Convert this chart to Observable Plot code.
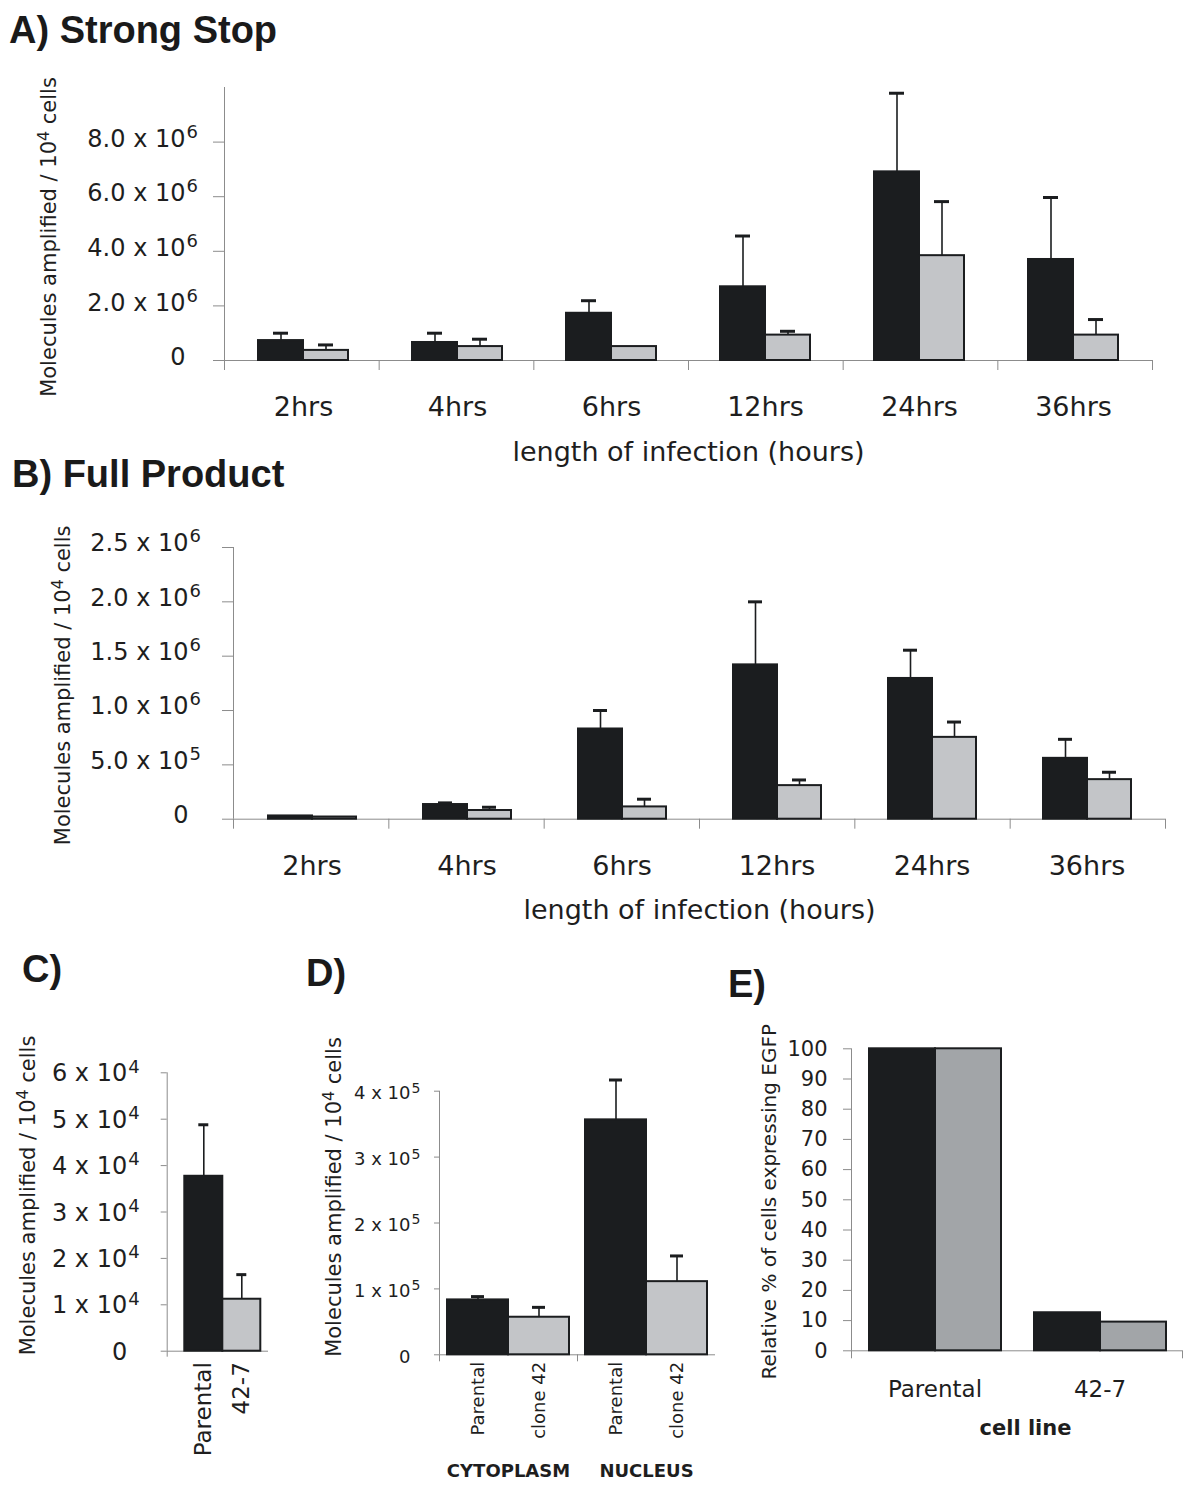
<!DOCTYPE html>
<html>
<head>
<meta charset="utf-8">
<script src="https://cdn.jsdelivr.net/npm/d3@7"></script>
<script src="https://cdn.jsdelivr.net/npm/@observablehq/plot@0.6"></script>
<style>
  body { margin: 0; background: #fff; }
  #page { position: relative; width: 1200px; height: 1494px; overflow: hidden; background: #fff; }
  .ttl { position: absolute; font-family: "Liberation Sans", Arial, sans-serif; font-weight: bold;
         font-size: 38px; line-height: 1; color: #1a1a1a; white-space: nowrap; }
</style>
</head>
<body>
<div id="page"></div>
<script>
// ---------------- DATA ----------------
const hours = ["2hrs", "4hrs", "6hrs", "12hrs", "24hrs", "36hrs"];
const cellLines = ["Parental", "42-7"];

// A) Strong Stop (molecules amplified / 10^4 cells), bar value and SD (error bar length)
const strongStopParental   = [0.73e6, 0.66e6, 1.73e6, 2.70e6, 6.91e6, 3.70e6];
const strongStopParentalSD = [0.27e6, 0.34e6, 0.46e6, 1.86e6, 2.88e6, 2.27e6];
const strongStop427        = [0.37e6, 0.51e6, 0.51e6, 0.93e6, 3.84e6, 0.93e6];
const strongStop427SD      = [0.20e6, 0.27e6, 0, 0.14e6, 1.98e6, 0.57e6];

// B) Full Product
const fullParental   = [0.03e6, 0.135e6, 0.83e6, 1.42e6, 1.295e6, 0.56e6];
const fullParentalSD = [0, 0.015e6, 0.17e6, 0.58e6, 0.26e6, 0.175e6];
const full427        = [0.02e6, 0.08e6, 0.113e6, 0.309e6, 0.753e6, 0.364e6];
const full427SD      = [0, 0.03e6, 0.071e6, 0.052e6, 0.141e6, 0.068e6];

// C) Parental vs 42-7
const cValues = [3.77e4, 1.12e4];
const cSD     = [1.11e4, 0.53e4];

// D) Cytoplasm / Nucleus
const fractions = ["CYTOPLASM", "NUCLEUS"];
const dLines = ["Parental", "clone 42"];
const dParental   = [0.833e5, 3.565e5];
const dParentalSD = [0.05e5, 0.605e5];
const dClone42    = [0.57e5, 1.11e5];
const dClone42SD  = [0.15e5, 0.39e5];

// E) Relative % of cells expressing EGFP
const eSeries = ["Series 1", "Series 2"];
const eSeries1 = [100, 12.6];
const eSeries2 = [100, 9.5];

// Tick values and labels (base text + superscript exponent)
const ticksA = [0, 2e6, 4e6, 6e6, 8e6];
const tickBaseA = ["0", "2.0 x 10", "4.0 x 10", "6.0 x 10", "8.0 x 10"];
const tickExpA  = ["", "6", "6", "6", "6"];
const ticksB = [0, 5e5, 1e6, 1.5e6, 2e6, 2.5e6];
const tickBaseB = ["0", "5.0 x 10", "1.0 x 10", "1.5 x 10", "2.0 x 10", "2.5 x 10"];
const tickExpB  = ["", "5", "6", "6", "6", "6"];
const ticksC = [0, 1e4, 2e4, 3e4, 4e4, 5e4, 6e4];
const tickBaseC = ["0", "1 x 10", "2 x 10", "3 x 10", "4 x 10", "5 x 10", "6 x 10"];
const tickExpC  = ["", "4", "4", "4", "4", "4", "4"];
const ticksD = [0, 1e5, 2e5, 3e5, 4e5];
const tickBaseD = ["0", "1 x 10", "2 x 10", "3 x 10", "4 x 10"];
const tickExpD  = ["", "5", "5", "5", "5"];
const ticksE = [0, 10, 20, 30, 40, 50, 60, 70, 80, 90, 100];
const tickBaseE = ["0", "10", "20", "30", "40", "50", "60", "70", "80", "90", "100"];

const yTitleMol = "Molecules amplified / 10^4 cells";
const yTitleE = "Relative % of cells expressing EGFP";
const xTitleHours = "length of infection (hours)";
const xTitleE = "cell line";

// ---------------- STYLE ----------------
const FONT = "'DejaVu Sans', Verdana, sans-serif";
const INK = "#1b1d1f", LIGHT = "#c3c5c8", MID = "#a2a5a8", AXIS = "#8c8c8c", TXT = "#1e1e1e";

const page = document.getElementById("page");

function addTitle(text, left, top) {
  const d = document.createElement("div");
  d.className = "ttl";
  d.textContent = text;
  d.style.left = left + "px";
  d.style.top = top + "px";
  page.appendChild(d);
}

const SVGNS = "http://www.w3.org/2000/svg";
function supify(svg) {
  svg.querySelectorAll("text").forEach(t => {
    const s = t.textContent;
    const m = s.match(/^(.*?)\^(\S)(.*)$/);
    if (!m) return;
    t.textContent = m[1];
    const sup = document.createElementNS(SVGNS, "tspan");
    sup.setAttribute("font-size", "75%");
    sup.setAttribute("dy", "-0.44em");
    sup.textContent = m[2];
    t.appendChild(sup);
    if (m[3]) {
      const rest = document.createElementNS(SVGNS, "tspan");
      rest.setAttribute("dy", "0.33em");
      rest.textContent = m[3];
      t.appendChild(rest);
    }
  });
}

function rowsFrom(groups, series, valueArrays, sdArrays) {
  return groups.flatMap((g, i) => series.map((s, j) => ({
    group: g, series: s, value: valueArrays[j][i], sd: sdArrays ? sdArrays[j][i] : 0
  })));
}

function panel(c) {
  const wrap = document.createElement("div");
  Object.assign(wrap.style, {position: "absolute", left: c.left + "px", top: c.top + "px",
    width: c.width + "px", height: c.height + "px"});
  page.appendChild(wrap);
  const [mt, mr, mb, ml] = c.margin;
  const common = {
    width: c.width, height: c.height,
    marginTop: mt, marginRight: mr, marginBottom: mb, marginLeft: ml,
    style: {background: "transparent", fontFamily: FONT, overflow: "visible", maxWidth: "none",
            position: "absolute", left: "0px", top: "0px"}
  };
  const n = c.groups.length;

  const axes = Plot.plot({
    ...common,
    x: {domain: [0, n]},
    y: {domain: c.yDomain},
    marks: [
      Plot.axisX(c.sepTicks, {tickSize: c.sepSize, tickFormat: () => "", stroke: AXIS, label: null}),
      Plot.axisY(c.yTicks, {tickSize: c.tickSize, tickFormat: () => "", stroke: AXIS, label: null}),
      Plot.ruleY([0], {stroke: AXIS}),
      Plot.ruleX([0], {stroke: AXIS}),
      Plot.text(c.yTicks, {y: d => d, text: (d, i) => c.tickBase[i], frameAnchor: "left", textAnchor: "end",
        lineAnchor: "middle", dx: c.labelDx, dy: c.labelDy, fontSize: c.labelSize, fill: TXT}),
      c.tickExp ? Plot.text(c.yTicks, {y: d => d, text: (d, i) => c.tickExp[i], frameAnchor: "left", textAnchor: "start",
        lineAnchor: "middle", dx: c.labelDx + 1, dy: c.labelDy - c.expRaise, fontSize: c.expSize, fill: TXT}) : null,
      Plot.text([c.yTitle], {text: d => d, frameAnchor: "left", textAnchor: "middle", lineAnchor: "middle",
        rotate: -90, dx: c.yTitleDx, dy: c.yTitleDy, fontSize: c.yTitleSize, fill: TXT}),
      c.xTitle ? Plot.text([c.xTitle], {text: d => d, frameAnchor: "bottom", textAnchor: "middle", lineAnchor: "middle",
        dx: c.xTitleDx || 0, dy: c.xTitleDy, fontSize: c.xTitleSize, fontWeight: c.xTitleWeight || "normal", fill: TXT}) : null
    ]
  });
  supify(axes);

  const errRows = c.rows.filter(d => d.sd > 0);
  const bars = Plot.plot({
    ...common,
    facet: {marginTop: 0, marginRight: 0, marginBottom: 0, marginLeft: 0},
    fx: {domain: c.groups, padding: 0, axis: null},
    x: {domain: c.series, paddingInner: 0, paddingOuter: c.padOuter, align: c.align ?? 0.5,
        ...(c.xAxis ? {} : {axis: null})},
    y: {domain: c.yDomain, axis: null},
    color: {domain: c.series, range: c.colors},
    marks: [
      Plot.barY(c.rows, {fx: "group", x: "series", y: "value", fill: "series", stroke: INK, strokeWidth: 2}),
      Plot.ruleX(errRows, {fx: "group", x: "series", y1: "value", y2: d => d.value + d.sd,
        stroke: INK, strokeWidth: 1.6}),
      Plot.tickY(errRows, {fx: "group", x: "series", y: d => d.value + d.sd,
        stroke: INK, strokeWidth: 3, inset: c.capInset}),
      c.groupLabels ? Plot.text(c.groups, {fx: d => d, text: d => d, frameAnchor: "bottom", textAnchor: "middle",
        lineAnchor: "middle", dy: c.groupDy, fontSize: c.groupSize, fontWeight: c.groupWeight || "normal", fill: TXT}) : null,
      c.xAxis ? Plot.axisX({tickRotate: -90, tickSize: 0, tickPadding: c.xAxis.pad, fontSize: c.xAxis.size,
        label: null, fill: TXT}) : null
    ]
  });
  wrap.appendChild(axes);
  wrap.appendChild(bars);
}

// ---------------- PANELS ----------------
addTitle("A) Strong Stop", 9, 10.5);
panel({
  left: 0, top: 60, width: 1200, height: 420, margin: [27, 48, 120, 224],
  groups: hours, series: cellLines, colors: [INK, LIGHT],
  rows: rowsFrom(hours, cellLines, [strongStopParental, strongStop427], [strongStopParentalSD, strongStop427SD]),
  yDomain: [0, 10e6], yTicks: ticksA, tickBase: tickBaseA, tickExp: tickExpA,
  tickSize: 11, labelDx: -39, labelDy: -3, labelSize: 24, expSize: 18, expRaise: 7,
  yTitle: yTitleMol, yTitleDx: -175, yTitleDy: 13, yTitleSize: 21,
  xTitle: xTitleHours, xTitleDy: 92, xTitleSize: 27,
  groupLabels: true, groupDy: 47, groupSize: 27,
  sepTicks: d3.range(hours.length + 1), sepSize: 10,
  padOuter: 0.7, capInset: 15
});

addTitle("B) Full Product", 12, 454.5);
panel({
  left: 0, top: 520, width: 1200, height: 420, margin: [27, 35, 121.3, 233],
  groups: hours, series: cellLines, colors: [INK, LIGHT],
  rows: rowsFrom(hours, cellLines, [fullParental, full427], [fullParentalSD, full427SD]),
  yDomain: [0, 2.5e6], yTicks: ticksB, tickBase: tickBaseB, tickExp: tickExpB,
  tickSize: 11, labelDx: -45, labelDy: -4, labelSize: 24, expSize: 18, expRaise: 7,
  yTitle: yTitleMol, yTitleDx: -170, yTitleDy: 2, yTitleSize: 21,
  xTitle: xTitleHours, xTitleDy: 91, xTitleSize: 27,
  groupLabels: true, groupDy: 47, groupSize: 27,
  sepTicks: d3.range(hours.length + 1), sepSize: 10,
  padOuter: 0.74, capInset: 15
});

addTitle("C)", 22, 949.8);
panel({
  left: 0, top: 1010, width: 300, height: 484, margin: [62.3, 32, 143.3, 166.7],
  groups: ["C"], series: cellLines, colors: [INK, LIGHT],
  rows: rowsFrom(["C"], cellLines, [[cValues[0]], [cValues[1]]], [[cSD[0]], [cSD[1]]]),
  yDomain: [0, 6e4], yTicks: ticksC, tickBase: tickBaseC, tickExp: tickExpC,
  tickSize: 6, labelDx: -40, labelDy: 1, labelSize: 24, expSize: 18, expRaise: 7,
  yTitle: yTitleMol, yTitleDx: -139, yTitleDy: -16.5, yTitleSize: 21,
  groupLabels: false,
  sepTicks: [0], sepSize: 6,
  padOuter: 0.31, align: 0.7, capInset: 14,
  xAxis: {pad: 11, size: 23}
});

addTitle("D)", 306, 953.8);
panel({
  left: 300, top: 1010, width: 440, height: 484, margin: [80.7, 25, 139.7, 139],
  groups: fractions, series: dLines, colors: [INK, LIGHT],
  rows: rowsFrom(fractions, dLines, [dParental, dClone42], [dParentalSD, dClone42SD]),
  yDomain: [0, 4e5], yTicks: ticksD, tickBase: tickBaseD, tickExp: tickExpD,
  tickSize: 5, labelDx: -29, labelDy: 2, labelSize: 18, expSize: 14, expRaise: 5,
  yTitle: yTitleMol, yTitleDx: -105, yTitleDy: -26, yTitleSize: 21,
  groupLabels: true, groupDy: 116, groupSize: 18, groupWeight: "bold",
  sepTicks: [0, 1], sepSize: 7,
  padOuter: 0.13, capInset: 24,
  xAxis: {pad: 7, size: 18}
});

addTitle("E)", 728, 964.8);
panel({
  left: 740, top: 1010, width: 460, height: 484, margin: [38.3, 18, 143.7, 111],
  groups: cellLines, series: eSeries, colors: [INK, MID],
  rows: rowsFrom(cellLines, eSeries, [eSeries1, eSeries2], null),
  yDomain: [0, 100], yTicks: ticksE, tickBase: tickBaseE, tickExp: null,
  tickSize: 8, labelDx: -24, labelDy: 0, labelSize: 21,
  yTitle: yTitleE, yTitleDx: -82, yTitleDy: 2, yTitleSize: 20,
  xTitle: xTitleE, xTitleDx: 8.5, xTitleDy: 77, xTitleSize: 21, xTitleWeight: "bold",
  groupLabels: true, groupDy: 39, groupSize: 23,
  sepTicks: [0, 2], sepSize: 8,
  padOuter: 0.244, capInset: 20
});
</script>
</body>
</html>
